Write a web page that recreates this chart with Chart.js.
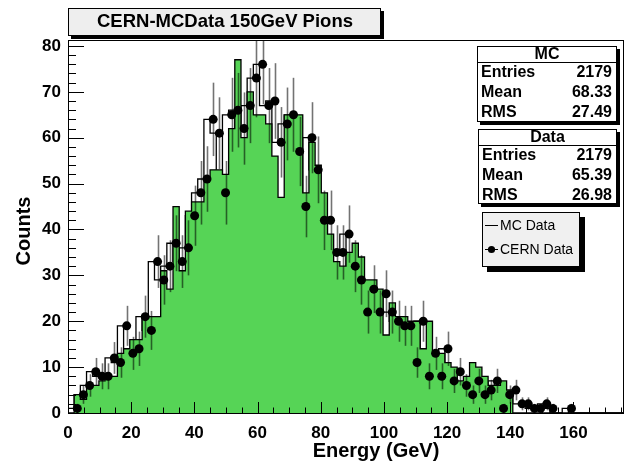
<!DOCTYPE html>
<html>
<head>
<meta charset="utf-8">
<script src="https://cdn.jsdelivr.net/npm/chart.js@4.4.1/dist/chart.umd.min.js"></script>
<style>
  html, body { margin: 0; padding: 0; background: #fff; }
  #wrap { width: 629px; height: 462px; }
</style>
</head>
<body>
<div id="wrap"><canvas id="histo" width="629" height="462"></canvas></div>
<script>
"use strict";

// ~ histogram binning
const xMin = 0;
const xMax = 176;
const nBins = 90;
const yMax = 81.3;

// ~ MC histogram (green), counts per bin
const mcCounts = [
  0, 0, 4, 3, 6, 6, 7, 8, 8, 13,
  14, 16, 16, 21, 21, 21, 31, 27, 45, 31,
  44, 46, 46, 51, 53, 53, 52, 62, 77, 60,
  70, 65, 65, 63, 56, 47, 65, 65, 65, 48,
  59, 54, 48, 39, 33, 32, 35, 37, 34, 29,
  29, 27, 17, 24, 21, 21, 20, 20, 14, 20,
  13, 13, 11, 10, 7, 8, 11, 10, 8, 6,
  6, 7, 5, 0, 0, 0, 0, 0, 0, 0,
  0, 0, 0, 0, 0, 0, 0, 0, 0, 0
];

// ~ CERN data, counts per bin
const cernCounts = [
  0, 1, 4, 6, 9, 8, 8, 12, 11, 19,
  13, 14, 21, 18, 33, 29, 32, 37, 33, 36,
  43, 48, 51, 64, 61, 48, 65, 66, 62, 67,
  73, 76, 67, 68, 59, 63, 65, 57, 45, 60,
  53, 42, 42, 35, 35, 39, 32, 29, 22, 27,
  22, 26, 22, 20, 19, 19, 11, 20, 8, 13,
  8, 14, 7, 9, 6, 4, 7, 4, 5, 7,
  1, 4, 5, 2, 2, 1, 1, 2, 1, 0,
  0, 1, 0, 0, 0, 0, 0, 0, 0, 0
];

const xTickLabels = [0, 20, 40, 60, 80, 100, 120, 140, 160];
const yTickLabels = [0, 10, 20, 30, 40, 50, 60, 70, 80];

const chartTitle = "CERN-MCData 150GeV Pions";
const xTitle = "Energy (GeV)";
const yTitle = "Counts";
const mcStats = [["Entries", "2179"], ["Mean", "68.33"], ["RMS", "27.49"]];
const dataStats = [["Entries", "2179"], ["Mean", "65.39"], ["RMS", "26.98"]];
const legendLabels = ["MC Data", "CERN Data"];

const GREEN = "rgb(86, 212, 86)";
const FONT = "'Liberation Sans', Arial, Helvetica, sans-serif";

// * build step outlines and points from the bins
const binWidth = (xMax - xMin) / nBins;

function stepData(counts) {
  const pts = counts.map((c, i) => ({ x: xMin + i * binWidth, y: c }));
  pts.push({ x: xMax, y: 0 });
  return pts;
}

const cernPoints = [];
cernCounts.forEach((c, i) => {
  if (c > 0) cernPoints.push({ x: xMin + (i + 0.5) * binWidth, y: c });
});

// ! frame, inward ticks, error bars, title and boxes
const rootStyle = {
  id: "rootStyle",
  afterDatasetsDraw(chart) {
    const { ctx, chartArea: a, scales } = chart;
    const xs = scales.x, ys = scales.y;

    // error bars, clipped at the frame
    ctx.save();
    ctx.beginPath();
    ctx.rect(a.left, a.top, a.right - a.left, a.bottom - a.top);
    ctx.clip();
    ctx.strokeStyle = "rgba(0,0,0,0.55)";
    ctx.lineWidth = 1.6;
    cernPoints.forEach((p) => {
      const e = Math.sqrt(p.y);
      const px = Math.round(xs.getPixelForValue(p.x)) + 0.5;
      ctx.beginPath();
      ctx.moveTo(px, ys.getPixelForValue(p.y - e));
      ctx.lineTo(px, ys.getPixelForValue(p.y + e));
      ctx.stroke();
    });
    ctx.restore();
  },
  afterDraw(chart) {
    const { ctx, chartArea: a, scales } = chart;
    const xs = scales.x, ys = scales.y;
    ctx.save();

    // frame
    ctx.strokeStyle = "#000";
    ctx.lineWidth = 1;
    ctx.strokeRect(a.left + 0.5, a.top + 0.5, a.right - a.left - 1, a.bottom - a.top);

    // x ticks (every 5, long every 20)
    ctx.beginPath();
    for (let v = 0; v <= xMax; v += 5) {
      const px = Math.round(xs.getPixelForValue(v)) + 0.5;
      const len = v % 20 === 0 ? 11 : 5.5;
      ctx.moveTo(px, a.bottom);
      ctx.lineTo(px, a.bottom - len);
    }
    // y ticks (every 2, long every 10)
    for (let v = 0; v <= yMax; v += 2) {
      const py = Math.round(ys.getPixelForValue(v)) + 0.5;
      const len = v % 10 === 0 ? 16 : 8;
      ctx.moveTo(a.left, py);
      ctx.lineTo(a.left + len, py);
    }
    ctx.stroke();

    // axis titles
    ctx.fillStyle = "#000";
    ctx.font = "bold 20px " + FONT;
    ctx.textAlign = "center";
    ctx.textBaseline = "middle";
    ctx.fillText(xTitle, 376, 451);
    ctx.save();
    ctx.translate(24, 231);
    ctx.rotate(-Math.PI / 2);
    ctx.fillText(yTitle, 0, 0);
    ctx.restore();

    // title box
    drawBox(ctx, 68, 8, 313, 28, "#eeeeee", 3);
    ctx.fillStyle = "#000";
    ctx.font = "bold 18.5px " + FONT;
    ctx.textAlign = "center";
    ctx.fillText(chartTitle, 225, 22);

    // stats boxes
    statsBox(ctx, 477, 46, 140, 76, "MC", mcStats);
    statsBox(ctx, 478, 129, 139, 75, "Data", dataStats);

    // legend box
    drawBox(ctx, 482, 212, 98, 55, "#f0f0f0", 5);
    ctx.strokeStyle = "#000";
    ctx.lineWidth = 1;
    ctx.beginPath();
    ctx.moveTo(485, 225.5); ctx.lineTo(498, 225.5);
    ctx.moveTo(485, 249.5); ctx.lineTo(498, 249.5);
    ctx.stroke();
    ctx.fillStyle = "#000";
    ctx.beginPath();
    ctx.arc(491.5, 249.5, 3.6, 0, Math.PI * 2);
    ctx.fill();
    ctx.font = "14px " + FONT;
    ctx.textAlign = "left";
    ctx.fillText(legendLabels[0], 500, 226);
    ctx.fillText(legendLabels[1], 500, 250);

    ctx.restore();
  }
};

function drawBox(ctx, x, y, w, h, fill, shadow) {
  ctx.fillStyle = "#000";
  ctx.fillRect(x + shadow, y + shadow, w, h);
  ctx.fillStyle = fill;
  ctx.fillRect(x, y, w, h);
  ctx.strokeStyle = "#000";
  ctx.lineWidth = 1;
  ctx.strokeRect(x + 0.5, y + 0.5, w - 1, h - 1);
}

function statsBox(ctx, x, y, w, h, name, rows) {
  drawBox(ctx, x, y, w, h, "#ffffff", 3);
  const head = 16;
  ctx.beginPath();
  ctx.moveTo(x, y + head + 0.5);
  ctx.lineTo(x + w, y + head + 0.5);
  ctx.stroke();
  ctx.fillStyle = "#000";
  ctx.font = "bold 16px " + FONT;
  ctx.textBaseline = "middle";
  ctx.textAlign = "center";
  ctx.fillText(name, x + w / 2, y + 9);
  const rowH = (h - head) / rows.length;
  rows.forEach((r, i) => {
    const ry = y + head + rowH * (i + 0.5) + 1;
    ctx.textAlign = "left";
    ctx.fillText(r[0], x + 4, ry);
    ctx.textAlign = "right";
    ctx.fillText(r[1], x + w - 5, ry);
  });
}

const ctx = document.getElementById("histo").getContext("2d");

new Chart(ctx, {
  type: "line",
  data: {
    datasets: [
      {
        label: legendLabels[1],
        type: "scatter",
        data: cernPoints,
        showLine: false,
        pointRadius: 4.5,
        pointBackgroundColor: "#000",
        pointBorderColor: "#000",
        pointBorderWidth: 0,
        order: 0,
      },
      {
        label: legendLabels[0],
        data: stepData(mcCounts),
        stepped: "after",
        borderColor: "#000",
        borderWidth: 1.3,
        backgroundColor: GREEN,
        fill: "origin",
        pointRadius: 0,
        order: 1,
      },
      {
        label: "CERN outline",
        data: stepData(cernCounts),
        stepped: "after",
        borderColor: "#000",
        borderWidth: 1.3,
        fill: false,
        pointRadius: 0,
        order: 2,
      },
    ],
  },
  options: {
    responsive: false,
    animation: false,
    layout: { padding: { left: 0, right: 5, top: 40, bottom: 0 } },
    scales: {
      x: {
        type: "linear",
        min: xMin,
        max: xMax,
        grid: { display: false, drawTicks: false },
        border: { display: false },
        afterBuildTicks: (s) => {
          s.ticks = xTickLabels.map((v) => ({ value: v }));
        },
        afterFit: (s) => { s.height = 49; },
        ticks: {
          padding: 10,
          color: "#000",
          maxRotation: 0,
          font: { family: FONT, size: 17, weight: "bold" },
        },
      },
      y: {
        min: 0,
        max: yMax,
        grid: { display: false, drawTicks: false },
        border: { display: false },
        afterBuildTicks: (s) => {
          s.ticks = yTickLabels.map((v) => ({ value: v }));
        },
        afterFit: (s) => { s.width = 68; },
        ticks: {
          padding: 7,
          color: "#000",
          font: { family: FONT, size: 17, weight: "bold" },
        },
      },
    },
    plugins: {
      legend: { display: false },
      tooltip: { enabled: false },
    },
  },
  plugins: [rootStyle],
});
</script>
</body>
</html>
